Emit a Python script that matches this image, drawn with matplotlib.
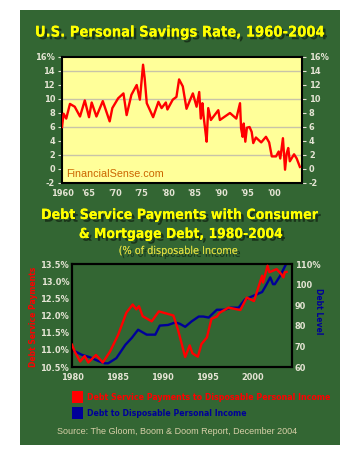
import os
import matplotlib
matplotlib.use('Agg')
import matplotlib.pyplot as plt
import matplotlib.patheffects as pe
from matplotlib import font_manager as fm
from matplotlib.patches import Rectangle

# ---------------- Data ----------------
# U.S. personal savings rate (%)
sav_years = [1960.0, 1960.3, 1960.8, 1961.5, 1962.4, 1963.4, 1964.3, 1965.1, 1965.6, 1966.5,
             1967.7, 1969.0, 1969.5, 1970.6, 1971.6, 1972.2, 1973.1, 1974.1, 1974.7, 1975.3,
             1975.6, 1976.0, 1977.2, 1978.2, 1978.8, 1979.6, 1979.9, 1980.9, 1981.6, 1982.1,
             1982.8, 1983.5, 1984.2, 1984.7, 1985.4, 1985.9, 1986.2, 1986.5, 1986.7, 1987.0,
             1987.3, 1987.6, 1988.1, 1989.5, 1989.8, 1991.7, 1992.9, 1993.6, 1993.8, 1994.1,
             1994.3, 1994.6, 1994.9, 1995.4, 1995.8, 1996.1, 1996.6, 1997.6, 1998.5, 1999.1,
             1999.6, 2000.4, 2000.9, 2001.2, 2001.7, 2002.1, 2002.4, 2002.7, 2003.0, 2003.8,
             2004.3, 2004.9]
sav_rate = [6.0, 7.9, 7.2, 9.3, 8.9, 7.5, 9.8, 7.4, 9.5, 7.5,
            9.7, 6.8, 8.7, 10.1, 10.8, 7.7, 10.6, 12.0, 9.9, 14.9,
            13.0, 9.4, 7.4, 9.6, 8.7, 9.5, 8.5, 9.9, 10.3, 12.8,
            11.8, 8.6, 9.9, 10.8, 8.9, 11.0, 7.2, 9.4, 7.7, 5.8,
            3.9, 8.7, 7.0, 8.4, 7.0, 8.0, 7.2, 9.4, 5.8, 4.6,
            6.5, 3.9, 5.9, 6.0, 5.3, 3.7, 4.5, 3.8, 4.6, 3.8,
            1.8, 1.8, 2.5, 1.5, 4.4, -0.1, 2.2, 3.0, 1.1, 2.1,
            1.5, 0.3]
sav_ticks = [-2, 0, 2, 4, 6, 8, 10, 12, 14, 16]
sav_ticklabels = ['-2', '0', '2', '4', '6', '8', '10', '12', '14', '16%']
sav_xticks = [1960, 1965, 1970, 1975, 1980, 1985, 1990, 1995, 2000]
sav_xticklabels = ['1960', "'65", "'70", "'75", "'80", "'85", "'90", "'95", "'00"]

# Debt service payments (% of disposable income)
dsp_years = [1980.0, 1980.3, 1980.9, 1981.4, 1981.8, 1982.65, 1983.4, 1984.2, 1985.1, 1986.0,
             1986.7, 1987.1, 1987.4, 1987.8, 1988.8, 1989.6, 1991.2, 1991.7, 1992.5, 1993.0,
             1993.3, 1993.9, 1994.3, 1994.9, 1995.4, 1996.0, 1996.3, 1996.9, 1997.3, 1998.2,
             1998.6, 1999.3, 2000.1, 2001.0, 2001.1, 2001.6, 2001.8, 2002.6, 2003.1, 2003.35,
             2003.5, 2003.7]
dsp_pct = [11.15, 10.95, 10.66, 10.82, 10.63, 10.85, 10.63, 10.95, 11.44, 12.08,
           12.32, 12.18, 12.27, 11.98, 11.83, 12.12, 12.0, 11.59, 10.79, 11.13,
           10.9, 10.8, 11.17, 11.36, 11.9, 11.97, 12.08, 12.17, 12.23, 12.18,
           12.16, 12.52, 12.42, 13.16, 12.96, 13.45, 13.26, 13.35, 13.21, 13.11,
           13.26, 13.27]

# Debt to disposable personal income (%)
debt_years = [1980.0, 1981.1, 1982.0, 1982.9, 1983.6, 1984.0, 1984.9, 1985.9, 1986.6, 1987.3,
              1988.25, 1989.2, 1989.7, 1990.6, 1991.4, 1991.9, 1992.5, 1993.2, 1994.0, 1994.5,
              1995.1, 1995.4, 1996.0, 1996.9, 1997.5, 1998.4, 1999.1, 2000.0, 2001.0, 2001.4,
              2001.9, 2002.2, 2002.4, 2003.0, 2003.65]
debt_pct = [68.3, 65.9, 64.7, 62.9, 61.8, 61.8, 64.3, 70.8, 74.1, 78.1,
            75.7, 75.7, 80.1, 80.4, 81.6, 81.0, 79.5, 82.1, 84.5, 84.5,
            84.0, 85.3, 87.8, 87.8, 88.8, 88.8, 92.8, 94.5, 96.4, 99.4,
            103.5, 100.2, 100.2, 104.3, 110.0]

dsp_ticks = [10.5, 11.0, 11.5, 12.0, 12.5, 13.0, 13.5]
dsp_ticklabels = ['10.5%', '11.0%', '11.5%', '12.0%', '12.5%', '13.0%', '13.5%']
debt_ticks = [60, 70, 80, 90, 100, 110]
debt_ticklabels = ['60', '70', '80', '90', '100', '110%']
debt_xticks = [1980, 1985, 1990, 1995, 2000]

# ---------------- Fonts: prefer a narrow face, else Roboto ----------------
def find_narrow(bold):
    hits = []
    for f in fm.fontManager.ttflist:
        base = os.path.basename(f.fname)
        narrow = any(k in base or k in f.name for k in ('Condensed', 'Narrow'))
        if not narrow or 'Italic' in base or 'Oblique' in base:
            continue
        if ('Bold' in base) != bold or 'Extra' in base or 'Light' in base or 'Semi' in base:
            continue
        hits.append(f.fname)
    hits.sort()
    return fm.FontProperties(fname=hits[0]) if hits else None


BOLD = find_narrow(True) or fm.FontProperties(family=['Roboto', 'DejaVu Sans'], weight='bold')
REG = find_narrow(False) or fm.FontProperties(family=['Roboto', 'DejaVu Sans'])
ARIAL = fm.FontProperties(family=['Liberation Sans', 'DejaVu Sans'])

# ---------------- Style ----------------
GREEN = '#336633'
PANEL = '#FFFF99'
TICK = '#E4E4D4'
YELLOW = '#FFFF00'

shadow = [pe.withSimplePatchShadow(offset=(2, -2), shadow_rgbFace='#102010', alpha=0.7), pe.Normal()]

fig = plt.figure(figsize=(3.5, 4.65), dpi=100)
fig.patch.set_facecolor('white')
fig.patches.append(Rectangle((20 / 350, 1 - 445 / 465), 320 / 350, 435 / 465,
                             transform=fig.transFigure, facecolor=GREEN, edgecolor='none', zorder=-10))


def style_axes(ax):
    ax.set_facecolor(PANEL)
    for s in ax.spines.values():
        s.set_color('black')
        s.set_linewidth(1.5)
    ax.tick_params(colors=TICK, length=3, width=0.8, pad=2)


fitted = []  # (text, target width in px, max fontsize)


def ftext(x, y, s, target, maxsize, prop, **kw):
    t = fig.text(x / 350, 1 - y / 465, s, fontproperties=prop.copy(), ha=kw.pop('ha', 'center'),
                 va='center', **kw)
    t.set_fontsize(maxsize)
    fitted.append((t, target, maxsize))
    return t


# ---------------- Savings rate chart ----------------
ax1 = fig.add_axes([62 / 350, 1 - 183 / 465, 240 / 350, 126 / 465])
style_axes(ax1)
ax1.plot(sav_years, sav_rate, color='#FF0000', lw=1.7, zorder=3)
ax1.set_xlim(1960, 2005.3)
ax1.set_ylim(-2, 16)
ax1.set_yticks(sav_ticks)
ax1.set_yticklabels(sav_ticklabels)
ax1.set_xticks(sav_xticks)
ax1.set_xticklabels(sav_xticklabels)
ax1.tick_params(axis='y', left=True, right=True, labelleft=True, labelright=True)
ax1.tick_params(axis='x', length=0, pad=4)
for y in [2, 6, 10, 14]:
    ax1.axhline(y, color='#C8C4A8', lw=1.0, zorder=1)
fs = ax1.text(0.017, 0.07, 'FinancialSense.com', transform=ax1.transAxes, color='#CC6600',
              fontproperties=ARIAL.copy(), va='center', ha='left')
fs.set_fontsize(9)
fitted.append((fs, 98, 9))

ftext(180, 32, 'U.S. Personal Savings Rate, 1960-2004', 290, 15, BOLD, color=YELLOW,
      path_effects=shadow)

# ---------------- Debt service chart ----------------
ax2 = fig.add_axes([72 / 350, 1 - 367 / 465, 220 / 350, 103 / 465])
ax3 = ax2.twinx()
style_axes(ax3)
style_axes(ax2)
ax2.set_zorder(ax3.get_zorder() + 1)
ax2.patch.set_visible(False)

ax3.plot(debt_years, debt_pct, color='#000099', lw=1.7, zorder=3)
ax2.plot(dsp_years, dsp_pct, color='#FF0000', lw=1.7, zorder=3)
ax2.set_xlim(1980, 2004.3)
ax2.set_ylim(10.5, 13.5)
ax3.set_ylim(60, 110)
ax2.set_yticks(dsp_ticks)
ax2.set_yticklabels(dsp_ticklabels)
ax3.set_yticks(debt_ticks)
ax3.set_yticklabels(debt_ticklabels)
ax2.set_xticks(debt_xticks)
ax2.set_xticklabels([str(y) for y in debt_xticks])
ax2.tick_params(axis='x', length=0, pad=4)
ax2.tick_params(axis='y', length=0)
ax3.tick_params(axis='y', length=0)

for ax in (ax1, ax2, ax3):
    for lab in ax.get_xticklabels() + ax.get_yticklabels():
        lab.set_fontproperties(BOLD.copy())
        lab.set_fontsize(9)

ftext(33, 317, 'Debt Service Payments', 100, 9.5, BOLD, color='#FF0000', rotation=90)
ftext(318, 311, 'Debt Level', 46, 9.5, BOLD, color='#000099', rotation=-90)

ftext(180, 215, 'Debt Service Payments with Consumer', 275, 14, BOLD, color=YELLOW,
      path_effects=shadow)
ftext(180, 234, '& Mortgage Debt, 1980-2004', 203, 14, BOLD, color=YELLOW,
      path_effects=shadow)
ftext(178, 251, '(% of disposable Income', 118, 10, REG, color='#D8D840',
      path_effects=shadow)

# ---------------- Legend & source ----------------
legend_items = [('Debt Service Payments to Disposable Personal Income', '#FF0000', 397, 244),
                ('Debt to Disposable Personal Income', '#000099', 413, 161)]
for label, col, ypx, wpx in legend_items:
    fig.patches.append(Rectangle((72 / 350, 1 - (ypx + 6) / 465), 11 / 350, 12 / 465,
                                 transform=fig.transFigure, facecolor=col, edgecolor='none'))
    ftext(87, ypx, label, wpx, 9, BOLD, color=col, ha='left')

ftext(177, 431, 'Source: The Gloom, Boom & Doom Report, December 2004', 240, 7, ARIAL,
      color='#D8D0A8')

# fit texts to the widths measured on the reference
for _ in range(2):
    fig.canvas.draw()
    r = fig.canvas.get_renderer()
    for t, target, maxsize in fitted:
        bb = t.get_window_extent(r)
        w = bb.height if t.get_rotation() % 180 == 90 else bb.width
        t.set_fontsize(min(maxsize, t.get_fontsize() * target / w))

# tick labels: "1960" is about 20 px wide in the reference (allow a little more)
fig.canvas.draw()
r = fig.canvas.get_renderer()
w1960 = ax1.get_xticklabels()[0].get_window_extent(r).width
tsize = min(9.5, 9 * 23 / w1960)
for ax in (ax1, ax2, ax3):
    for lab in ax.get_xticklabels() + ax.get_yticklabels():
        lab.set_fontsize(tsize)

fig.savefig('out.png', dpi=100, facecolor=fig.get_facecolor())
